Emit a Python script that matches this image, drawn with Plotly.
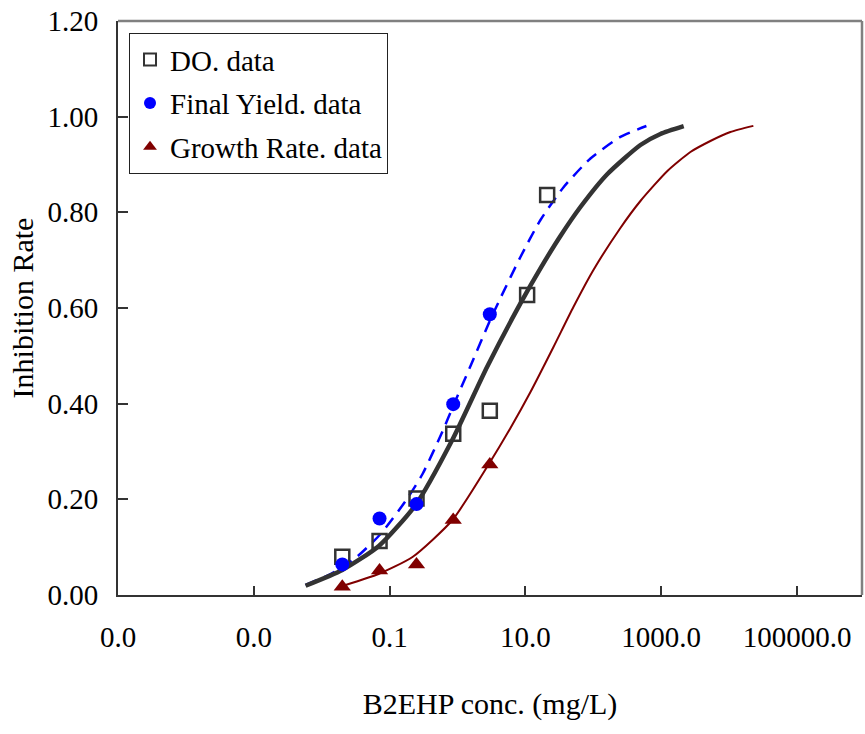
import plotly.graph_objects as go

# ---- data ----
doses = [0.0201, 0.0711, 0.249, 0.865, 2.99, 10.6, 20.9]
do_data = [0.080, 0.113, 0.202, 0.337, 0.385, 0.627, 0.836]
fy_doses = [0.0201, 0.0711, 0.249, 0.865, 2.99]
fy_data = [0.064, 0.160, 0.190, 0.399, 0.587]
gr_doses = [0.0201, 0.0711, 0.249, 0.865, 2.99]
gr_data = [0.017, 0.051, 0.064, 0.157, 0.273]

# fitted curves
do_fit_x = [0.00579, 0.0201, 0.0695, 0.241, 0.836, 2.735, 8.45, 16.66, 32.8, 64.6, 161.4, 494, 973, 2143]
do_fit_y = [0.0194, 0.0523, 0.1024, 0.1881, 0.3240, 0.4773, 0.6097, 0.6829, 0.7505, 0.8111, 0.8801, 0.9408, 0.9638, 0.9801]
fy_fit_x = [0.00579, 0.01352, 0.03148, 0.07362, 0.1718, 0.3055, 0.5957, 0.8648, 1.554, 2.989, 4.295, 8.453, 16.66, 36.7, 90.8, 250.8, 605]
fy_fit_y = [0.0209, 0.0439, 0.0774, 0.1275, 0.1965, 0.2530, 0.3408, 0.3952, 0.4788, 0.5729, 0.6209, 0.7067, 0.7840, 0.8530, 0.9126, 0.9576, 0.9805]
gr_fit_x = [0.02244, 0.0687, 0.2173, 0.843, 2.96, 6.03, 11.87, 25.9, 50.9, 100.4, 250.6, 494, 1233, 2690, 5297, 10430, 22750]
gr_fit_y = [0.0209, 0.0439, 0.0794, 0.1568, 0.2760, 0.3492, 0.4244, 0.5185, 0.6021, 0.6795, 0.7673, 0.8237, 0.8864, 0.9261, 0.9491, 0.9679, 0.9808]

x_tickvals = [1e-5, 1e-3, 0.1, 10, 1000, 100000]
x_ticktext = ["0.0", "0.0", "0.1", "10.0", "1000.0", "100000.0"]
y_tickvals = [0, 0.2, 0.4, 0.6, 0.8, 1.0, 1.2]

FONT = "Liberation Serif, Times New Roman, serif"

fig = go.Figure()

# fitted curves (no legend)
fig.add_trace(go.Scatter(x=fy_fit_x, y=fy_fit_y, mode="lines", showlegend=False,
                         line=dict(color="#0000FF", width=2.5, dash="12px,8px", shape="spline", smoothing=0.6),
                         hoverinfo="skip"))
fig.add_trace(go.Scatter(x=do_fit_x, y=do_fit_y, mode="lines", showlegend=False,
                         line=dict(color="#333333", width=4.5, shape="spline", smoothing=0.6),
                         hoverinfo="skip"))
fig.add_trace(go.Scatter(x=gr_fit_x, y=gr_fit_y, mode="lines", showlegend=False,
                         line=dict(color="#800000", width=2, shape="spline", smoothing=0.6),
                         hoverinfo="skip"))

# data points
fig.add_trace(go.Scatter(x=doses, y=do_data, mode="markers", name="DO. data", legendgroup="a",
                         marker=dict(symbol="square-open", size=14, color="#333333",
                                     line=dict(width=2.5, color="#333333"))))
fig.add_trace(go.Scatter(x=fy_doses, y=fy_data, mode="markers", name="Final Yield. data", legendgroup="b",
                         marker=dict(symbol="circle", size=14, color="#0000FF")))
fig.add_trace(go.Scatter(x=gr_doses, y=gr_data, mode="markers", name="Growth Rate. data", legendgroup="c",
                         marker=dict(symbol="triangle-up", size=15, color="#800000")))

# frame top / right in gray
fig.add_shape(type="line", xref="paper", yref="paper", x0=0, x1=1, y0=1, y1=1,
              line=dict(color="#808080", width=2.5), layer="above")
fig.add_shape(type="line", xref="paper", yref="paper", x0=1, x1=1, y0=0, y1=1,
              line=dict(color="#808080", width=2.5), layer="above")

fig.update_layout(
    width=865, height=734,
    margin=dict(l=118, r=3, t=21, b=139),
    paper_bgcolor="white", plot_bgcolor="white",
    font=dict(family=FONT, size=29, color="black"),
    legend=dict(x=0.0148, y=0.979, xanchor="left", yanchor="top",
                bgcolor="white", bordercolor="#222222", borderwidth=1,
                font=dict(family=FONT, size=29, color="black"),
                tracegroupgap=3, itemsizing="constant"),
    xaxis=dict(type="log", range=[-5, 5.957], tickvals=x_tickvals, ticktext=x_ticktext,
               automargin=False, ticklabeloverflow="allow",
               showgrid=False, zeroline=False, showline=True, linecolor="#333333", linewidth=2,
               ticks="inside", ticklen=9, tickwidth=1.5, tickcolor="#333333",
               ticklabelstandoff=15,
               title=dict(text="B2EHP conc. (mg/L)", font=dict(family=FONT, size=30), standoff=41)),
    yaxis=dict(range=[0, 1.2], tickvals=y_tickvals, tickformat=".2f",
               automargin=False, ticklabeloverflow="allow",
               showgrid=False, zeroline=False, showline=True, linecolor="#333333", linewidth=2,
               ticks="inside", ticklen=10, tickwidth=1.5, tickcolor="#333333",
               ticklabelstandoff=12,
               title=dict(text="Inhibition Rate", font=dict(family=FONT, size=30), standoff=5)),
)

# remove the default 8px page margin so the figure fills the window exactly
fig.write_html("out.html", config={"displayModeBar": False},
               post_script="document.body.style.margin='0';")
